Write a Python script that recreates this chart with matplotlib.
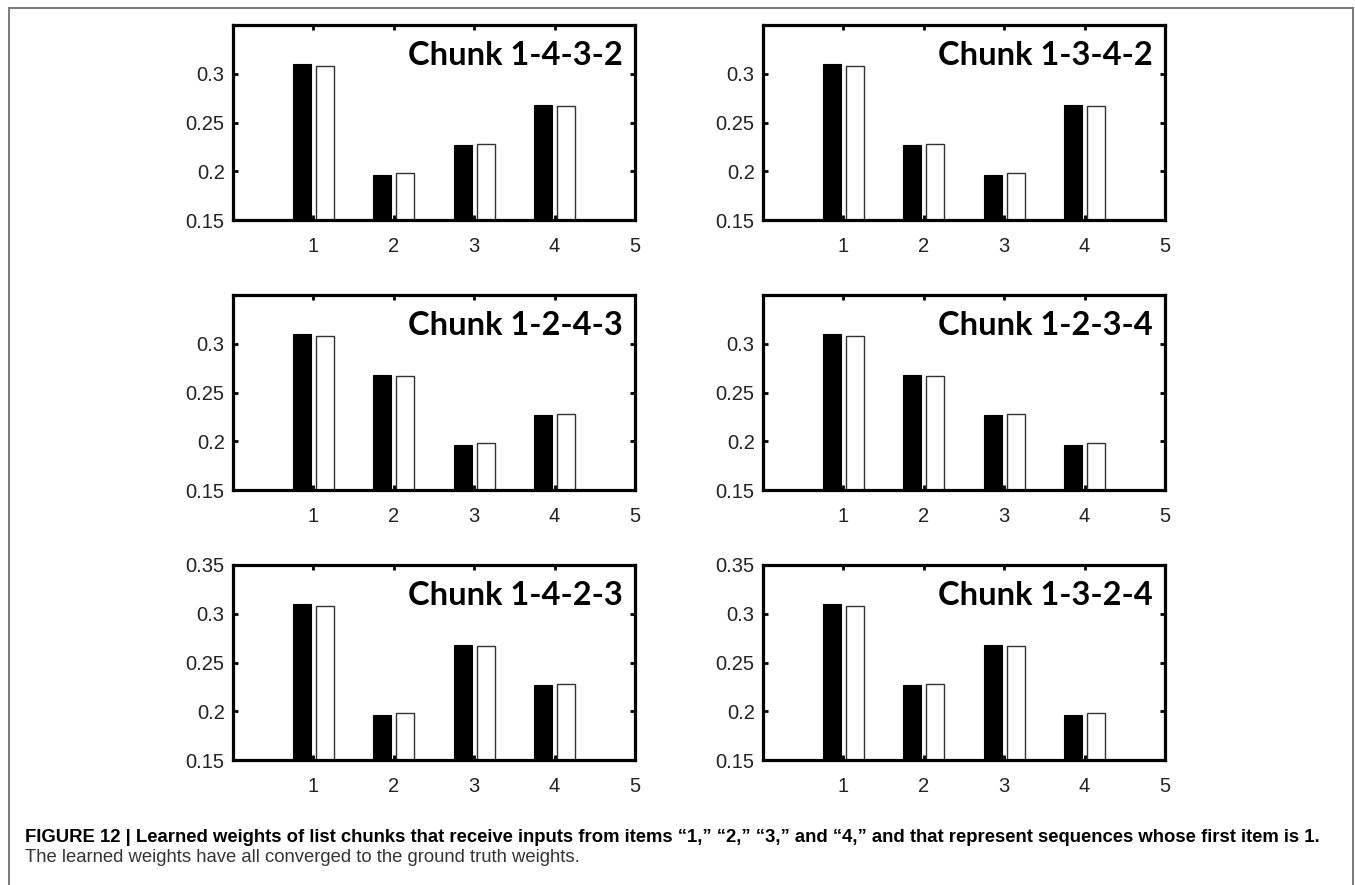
import matplotlib
matplotlib.use("Agg")
from matplotlib import pyplot as plt
from matplotlib.lines import Line2D
import numpy as np

# item positions on the x axis
items = [1, 2, 3, 4]

# one panel per chunk: learned weights (black) and ground truth weights (white)
chunk_names = ["Chunk 1-4-3-2", "Chunk 1-3-4-2",
               "Chunk 1-2-4-3", "Chunk 1-2-3-4",
               "Chunk 1-4-2-3", "Chunk 1-3-2-4"]

learned = [
    [0.310, 0.196, 0.227, 0.268],
    [0.310, 0.227, 0.196, 0.268],
    [0.310, 0.268, 0.196, 0.227],
    [0.310, 0.268, 0.227, 0.196],
    [0.310, 0.196, 0.268, 0.227],
    [0.310, 0.227, 0.268, 0.196],
]
truth = [
    [0.308, 0.198, 0.228, 0.2665],
    [0.308, 0.228, 0.198, 0.2665],
    [0.308, 0.2665, 0.198, 0.228],
    [0.308, 0.2665, 0.228, 0.198],
    [0.308, 0.198, 0.2665, 0.228],
    [0.308, 0.228, 0.2665, 0.198],
]

y_ticks_top = [0.15, 0.2, 0.25, 0.3]
y_ticks_bottom = [0.15, 0.2, 0.25, 0.3, 0.35]
y_tick_labels_top = ["0.15", "0.2", "0.25", "0.3"]
y_tick_labels_bottom = ["0.15", "0.2", "0.25", "0.3", "0.35"]
x_ticks = [1, 2, 3, 4, 5]

caption_bold = ("FIGURE 12 | Learned weights of list chunks that receive inputs from items "
                "\u201c1,\u201d \u201c2,\u201d \u201c3,\u201d and \u201c4,\u201d and that represent "
                "sequences whose first item is 1.")
caption_plain = "The learned weights have all converged to the ground truth weights."

W, H = 1355, 885
fig = plt.figure(figsize=(W / 100, H / 100), dpi=100)

# grey frame around the figure (open at the bottom)
frame = dict(color="#7a7a7a", lw=1.4, transform=fig.transFigure)
fig.add_artist(Line2D([9 / W, 9 / W], [0, 1 - 8 / H], **frame))
fig.add_artist(Line2D([9 / W, 1353 / W], [1 - 8 / H, 1 - 8 / H], **frame))
fig.add_artist(Line2D([1353 / W, 1353 / W], [1 - 8 / H, 0], **frame))

col_left = [233, 763]
row_top = [25, 295, 565]
ax_w, ax_h = 402, 195
off, bw = 0.143, 0.228
x = np.array(items)

for i in range(6):
    r, c = divmod(i, 2)
    ax = fig.add_axes([col_left[c] / W, 1 - (row_top[r] + ax_h) / H, ax_w / W, ax_h / H])
    ax.bar(x - off, learned[i], bw, bottom=0, color="black", edgecolor="black", linewidth=0.8)
    ax.bar(x + off, truth[i], bw, bottom=0, color="white", edgecolor="#333333", linewidth=1.0)
    ax.set_xlim(0, 5)
    ax.set_ylim(0.15, 0.35)
    ax.set_xticks(x_ticks)
    ax.set_xticklabels([str(t) for t in x_ticks])
    if r == 2:
        ax.set_yticks(y_ticks_bottom)
        ax.set_yticklabels(y_tick_labels_bottom)
    else:
        ax.set_yticks(y_ticks_top)
        ax.set_yticklabels(y_tick_labels_top)
    for s in ax.spines.values():
        s.set_linewidth(2.3)
    ax.tick_params(direction="in", length=3.5, width=2, top=True, right=True,
                   labelsize=14.5, colors="black")
    ax.tick_params(axis="x", pad=12)
    ax.tick_params(axis="y", pad=6)
    for lab in ax.get_xticklabels() + ax.get_yticklabels():
        lab.set_fontfamily("Liberation Sans")
        lab.set_color("#222222")
    ax.text(0.97, 0.845, chunk_names[i], transform=ax.transAxes, ha="right", va="center",
            fontsize=23.5, fontweight="bold", family="Lato")

fig.text(25 / W, 1 - 838 / H, caption_bold, fontsize=13.35, fontweight="bold",
         family="Liberation Sans", ha="left", va="center")
fig.text(25 / W, 1 - 857 / H, caption_plain, fontsize=13.35,
         family="Liberation Sans", ha="left", va="center", color="#333333")

fig.savefig("out.png", dpi=100)
